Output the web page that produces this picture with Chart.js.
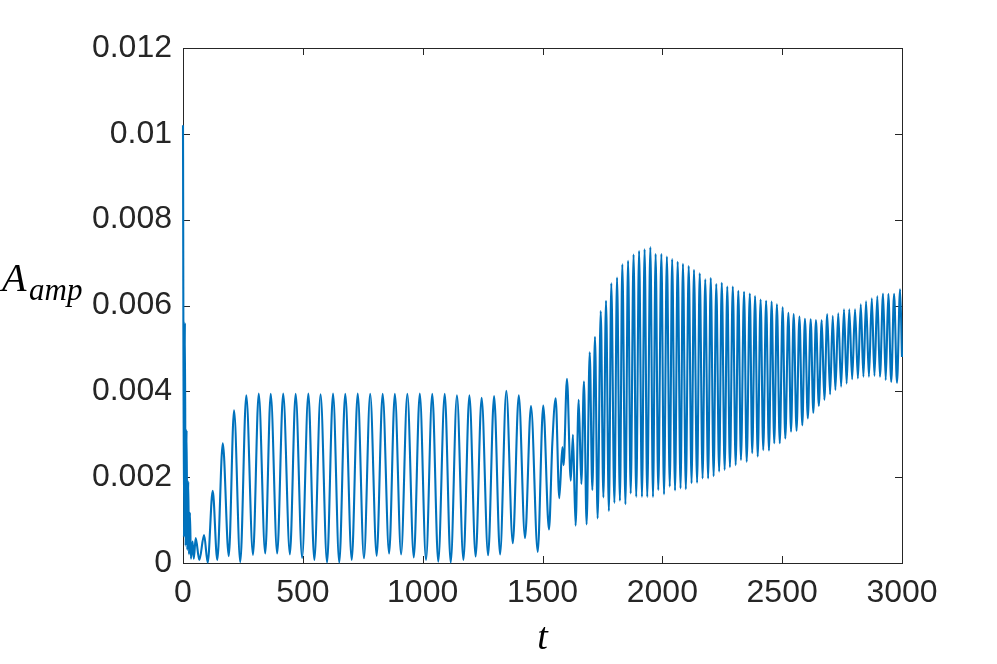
<!DOCTYPE html>
<html>
<head>
<meta charset="utf-8">
<script src="https://cdn.jsdelivr.net/npm/chart.js@4/dist/chart.umd.min.js"></script>
<style>
  html, body { margin: 0; padding: 0; background: #ffffff; }
  #wrap { width: 997px; height: 664px; }
</style>
</head>
<body>
<div id="wrap"><canvas id="c" width="997" height="664"></canvas></div>
<script>
// ---- data (local extrema of the signal) ----
const tValues = [
  0, 4, 8, 11, 15, 18, 22, 25, 29, 33, 40, 45, 53, 68, 88, 103,
  124, 143, 166, 191, 213, 239, 264, 292, 316, 343, 366, 393, 418, 446, 470, 497,
  523, 548, 574, 601, 626, 652, 677, 704, 729, 755, 781, 808, 833, 860, 884, 910,
  936, 963, 988, 1014, 1040, 1065, 1092, 1117, 1143, 1170, 1195, 1221, 1246, 1273,
  1298, 1323, 1349, 1376, 1401, 1427, 1452, 1480, 1503, 1527, 1541, 1555, 1570,
  1583, 1588, 1602, 1618, 1627, 1638, 1651, 1662, 1673, 1684, 1697, 1708, 1719,
  1730, 1743, 1754, 1765, 1777, 1787, 1800, 1811, 1823, 1833, 1846, 1857, 1868,
  1880, 1891, 1903, 1915, 1926, 1937, 1950, 1961, 1972, 1983, 1996, 2007, 2019,
  2031, 2041, 2053, 2064, 2076, 2086, 2098, 2110, 2122, 2132, 2145, 2156, 2168,
  2179, 2191, 2202, 2214, 2225, 2237, 2248, 2260, 2271, 2282, 2294, 2306, 2317,
  2328, 2341, 2352, 2365, 2375, 2387, 2398, 2410, 2421, 2433, 2445, 2456, 2467,
  2478, 2490, 2502, 2513, 2526, 2537, 2548, 2560, 2572, 2584, 2595, 2607, 2619,
  2630, 2641, 2653, 2665, 2676, 2688, 2700, 2711, 2722, 2734, 2746, 2758, 2769,
  2780, 2792, 2804, 2816, 2828, 2839, 2850, 2862, 2874, 2885, 2897, 2908, 2921,
  2932, 2943, 2955, 2967, 2979, 2992, 3000
];
const ampValues = [
  0.0102, 0.0006, 0.0056, 0.0004, 0.0031, 0.0003, 0.0019, 0.0002, 0.00117, 0.0001, 0.0005, 0.0001, 0.00058, 0.00007, 0.00065, 0.00001,
  0.00168, 0.00007, 0.00279, 0.00016, 0.00356, 0.00002, 0.00391, 0.00019, 0.00395, 0.00022, 0.00394, 0.00022, 0.00395, 0.0002, 0.00394, 0.00012,
  0.00395, 0.00007, 0.00393, 0.00001, 0.00395, 0.00001, 0.00394, 0.00007, 0.00395, 0.00011, 0.00394, 0.00017, 0.00394, 0.00022, 0.00394, 0.0002,
  0.00394, 0.00013, 0.00395, 0.00007, 0.00394, 0.00003, 0.00394, 0.00001, 0.00391, 0.00007, 0.00391, 0.00015, 0.00385, 0.00018,
  0.00389, 0.0002, 0.00401, 0.00046, 0.00391, 0.00058, 0.00366, 0.00026, 0.00367, 0.00078, 0.00279, 0.00384, 0.00151,
  0.0027, 0.00228, 0.00429, 0.00192, 0.00299, 0.00087, 0.0038, 0.00184, 0.00423, 0.0009, 0.00491, 0.0017, 0.00527,
  0.00104, 0.00587, 0.00153, 0.00611, 0.00121, 0.00652, 0.0014, 0.00665, 0.00145, 0.00696, 0.00137, 0.00704, 0.00162,
  0.00719, 0.00154, 0.00727, 0.00154, 0.00731, 0.00154, 0.00736, 0.00154, 0.0072, 0.0017, 0.0072, 0.0016, 0.00714,
  0.00178, 0.00708, 0.00169, 0.00702, 0.00174, 0.00697, 0.00172, 0.00692, 0.00186, 0.00683, 0.00187, 0.00675, 0.00197,
  0.00661, 0.00197, 0.00664, 0.00202, 0.0065, 0.00213, 0.00653, 0.00217, 0.00644, 0.00223, 0.00644, 0.00228, 0.00634,
  0.0024, 0.00632, 0.00236, 0.00628, 0.00256, 0.00622, 0.00248, 0.00614, 0.00263, 0.00611, 0.00262, 0.00609, 0.00279,
  0.00603, 0.00279, 0.00596, 0.0029, 0.00583, 0.00306, 0.0058, 0.00308, 0.00574, 0.00321, 0.00569, 0.00337, 0.00568,
  0.0035, 0.00566, 0.00366, 0.00566, 0.0038, 0.0058, 0.00393, 0.00576, 0.00403, 0.00582, 0.00411, 0.00591, 0.00418,
  0.00591, 0.00428, 0.00591, 0.0043, 0.00603, 0.00434, 0.0061, 0.00434, 0.00617, 0.00436, 0.00622, 0.00434, 0.00628,
  0.00426, 0.00627, 0.00422, 0.00627, 0.0042, 0.00638, 0.0048
];
const xTickLabels = ['0', '500', '1000', '1500', '2000', '2500', '3000'];
const yTickLabels = ['0', '0.002', '0.004', '0.006', '0.008', '0.01', '0.012'];
const xTickValues = [0, 500, 1000, 1500, 2000, 2500, 3000];
const yTickValues = [0, 0.002, 0.004, 0.006, 0.008, 0.01, 0.012];

const points = tValues.map((t, i) => ({ x: t, y: ampValues[i] }));

const AXIS_COLOR = '#262626';
const TICK_FONT = { family: '"Liberation Sans", Arial, Helvetica, sans-serif', size: 32 };

const boxAndLabels = {
  id: 'boxAndLabels',
  beforeDatasetsDraw(chart) {
    const { ctx, chartArea: a, scales } = chart;
    const xs = scales.x, ys = scales.y;
    ctx.save();
    ctx.strokeStyle = AXIS_COLOR;
    ctx.lineWidth = 1;
    ctx.strokeRect(Math.round(a.left) + 0.5, Math.round(a.top) + 0.5,
                   Math.round(a.right - a.left), Math.round(a.bottom - a.top));
    const tl = 7;
    ctx.beginPath();
    xTickValues.forEach(v => {
      const px = Math.round(xs.getPixelForValue(v)) + 0.5;
      ctx.moveTo(px, a.bottom); ctx.lineTo(px, a.bottom - tl);
      ctx.moveTo(px, a.top); ctx.lineTo(px, a.top + tl);
    });
    yTickValues.forEach(v => {
      const py = Math.round(ys.getPixelForValue(v)) + 0.5;
      ctx.moveTo(a.left, py); ctx.lineTo(a.left + tl, py);
      ctx.moveTo(a.right, py); ctx.lineTo(a.right - tl, py);
    });
    ctx.stroke();
    ctx.restore();
  },
  afterDraw(chart) {
    const { ctx, chartArea: a } = chart;
    ctx.save();
    ctx.fillStyle = '#000000';
    ctx.textBaseline = 'alphabetic';
    ctx.textAlign = 'left';
    ctx.font = 'italic 40px "Liberation Serif", "DejaVu Serif", serif';
    ctx.fillText('A', 2, 291);
    ctx.font = 'italic 31px "Liberation Serif", "DejaVu Serif", serif';
    ctx.fillText('amp', 29, 300);
    ctx.font = 'italic 38px "Liberation Serif", "DejaVu Serif", serif';
    ctx.textAlign = 'center';
    ctx.fillText('t', (a.left + a.right) / 2, 649);
    ctx.restore();
  }
};

new Chart(document.getElementById('c'), {
  type: 'line',
  data: {
    datasets: [{
      data: points,
      borderColor: '#0072BD',
      borderWidth: 2.1,
      pointRadius: 0,
      fill: false,
      clip: 3,
      cubicInterpolationMode: 'monotone'
    }]
  },
  options: {
    responsive: false,
    animation: false,
    devicePixelRatio: 1,
    layout: { padding: { left: 0, top: 48, right: 95, bottom: 0 } },
    plugins: { legend: { display: false }, tooltip: { enabled: false } },
    scales: {
      x: {
        type: 'linear', min: 0, max: 3000,
        afterBuildTicks: s => { s.ticks = xTickValues.map(v => ({ value: v })); },
        ticks: {
          color: AXIS_COLOR, font: TICK_FONT, padding: 11, maxRotation: 0,
          callback: (v) => xTickLabels[xTickValues.indexOf(v)]
        },
        grid: { display: false, drawTicks: false },
        border: { display: false },
        afterFit: s => { s.height = 101; }
      },
      y: {
        type: 'linear', min: 0, max: 0.012,
        afterBuildTicks: s => { s.ticks = yTickValues.map(v => ({ value: v })); },
        ticks: {
          color: AXIS_COLOR, font: TICK_FONT, padding: 11,
          callback: (v) => {
            const i = yTickValues.findIndex(q => Math.abs(q - v) < 1e-9);
            return i >= 0 ? yTickLabels[i] : '';
          }
        },
        grid: { display: false, drawTicks: false },
        border: { display: false },
        afterFit: s => { s.width = 183; }
      }
    }
  },
  plugins: [boxAndLabels]
});
</script>
</body>
</html>
